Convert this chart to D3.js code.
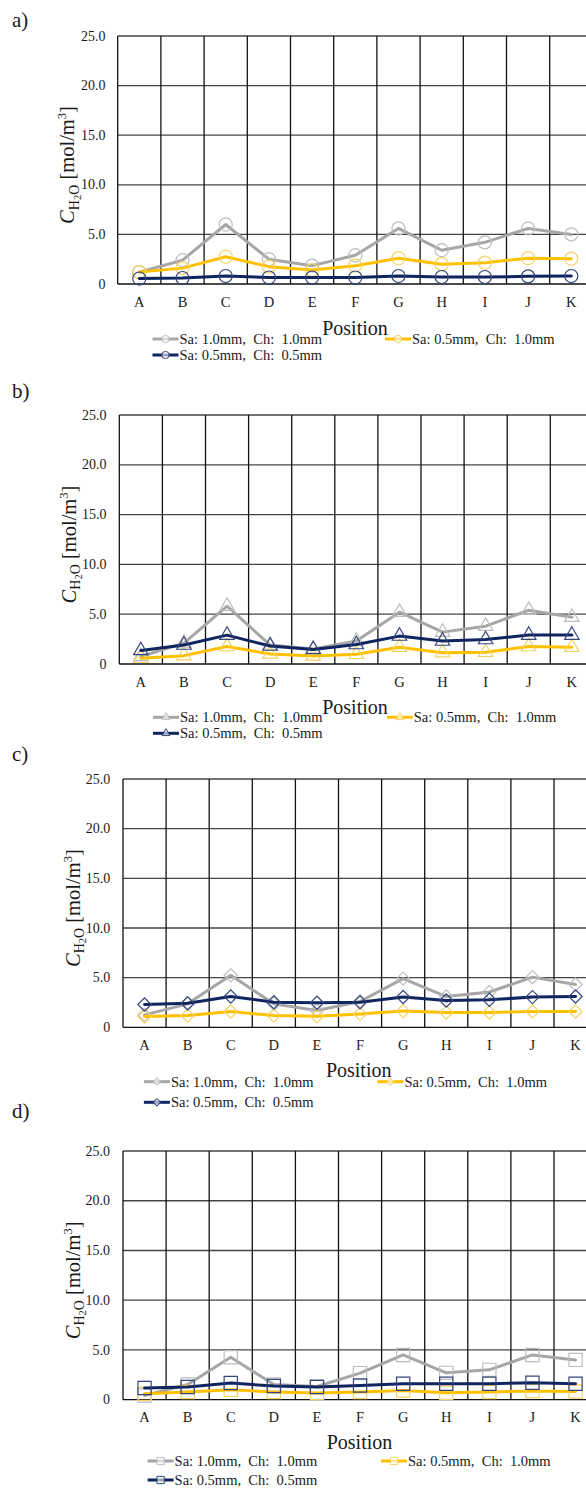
<!DOCTYPE html>
<html><head><meta charset="utf-8">
<script src="https://cdn.jsdelivr.net/npm/d3@7"></script>
<style>
html,body{margin:0;padding:0;background:#fff;}
svg{display:block;}
text{font-family:"Liberation Serif","DejaVu Serif",serif;fill:#1a1a1a;}
</style></head><body>
<svg id="chart" width="586" height="1490" font-family="Liberation Serif, DejaVu Serif, serif"></svg>
<script>
// Measurement positions along the channel
const positions = ["A","B","C","D","E","F","G","H","I","J","K"];
const yTicks = [0, 5, 10, 15, 20, 25];
const yTickLabels = ["0", "5.0", "10.0", "15.0", "20.0", "25.0"];
const seriesNames = ["Sa: 1.0mm,  Ch:  1.0mm", "Sa: 0.5mm,  Ch:  1.0mm", "Sa: 0.5mm,  Ch:  0.5mm"];
const panelLabels = ["a)", "b)", "c)", "d)"];
const panelMarkers = ["circle", "triangle", "diamond", "square"];

// Water concentration C_H2O [mol/m3], panel a
const aSa10Ch10 = [1.2, 2.4, 6.0, 2.5, 1.85, 2.9, 5.6, 3.4, 4.2, 5.6, 5.0];
const aSa05Ch10 = [1.2, 1.6, 2.75, 1.75, 1.4, 1.85, 2.6, 2.0, 2.15, 2.6, 2.55];
const aSa05Ch05 = [0.55, 0.6, 0.8, 0.65, 0.65, 0.65, 0.8, 0.7, 0.7, 0.77, 0.8];
// panel b
const bSa10Ch10 = [0.75, 2.1, 5.8, 1.9, 1.5, 2.3, 5.2, 3.2, 3.8, 5.4, 4.7];
const bSa05Ch10 = [0.57, 0.84, 1.75, 1.0, 0.8, 0.97, 1.68, 1.14, 1.17, 1.75, 1.68];
const bSa05Ch05 = [1.35, 1.9, 2.9, 1.8, 1.45, 1.95, 2.8, 2.3, 2.45, 2.9, 2.9];
// panel c
const cSa10Ch10 = [1.25, 2.36, 5.24, 2.36, 1.69, 2.6, 4.9, 3.1, 3.55, 5.05, 4.3];
const cSa05Ch10 = [1.08, 1.18, 1.59, 1.18, 1.11, 1.35, 1.65, 1.5, 1.5, 1.59, 1.6];
const cSa05Ch05 = [2.3, 2.43, 3.1, 2.53, 2.47, 2.53, 3.05, 2.7, 2.77, 3.04, 3.1];
// panel d
const dSa10Ch10 = [0.43, 1.53, 4.27, 1.53, 1.33, 2.67, 4.5, 2.7, 3.0, 4.5, 4.0];
const dSa05Ch10 = [0.6, 0.77, 1.0, 0.77, 0.67, 0.77, 0.93, 0.7, 0.77, 0.87, 0.83];
const dSa05Ch05 = [1.17, 1.27, 1.67, 1.37, 1.27, 1.43, 1.6, 1.6, 1.6, 1.7, 1.6];

const panelData = [
  [aSa10Ch10, aSa05Ch10, aSa05Ch05],
  [bSa10Ch10, bSa05Ch10, bSa05Ch05],
  [cSa10Ch10, cSa05Ch10, cSa05Ch05],
  [dSa10Ch10, dSa05Ch10, dSa05Ch05]
];

const lineColors = ["#a6a6a6", "#ffc000", "#0f2560"];
const markerColors = ["#bdbdbd", "#f3d266", "#34457a"];

// Page layout of the four stacked panels
const layout = [
  {lab: 27,   left: 117.7, top: 36,  bottom: 284,    band: 43.2, tickRight: 105.4, xLab: 302,    posX: 355,   posY: 328,    leg1: 339,    leg2: 355,    legX1: 152.5, legX2: 385},
  {lab: 398,  left: 119.3, top: 415, bottom: 664,    band: 43.1, tickRight: 106.5, xLab: 681.7,  posX: 355,   posY: 707.7,  leg1: 717.3,  leg2: 733.3,  legX1: 153,   legX2: 386.8},
  {lab: 761,  left: 123,   top: 779, bottom: 1027.3, band: 43.1, tickRight: 110.2, xLab: 1045,   posX: 358.7, posY: 1070.7, leg1: 1081.7, leg2: 1102.3, legX1: 143.9, legX2: 377.4},
  {lab: 1118, left: 123,   top: 1151, bottom: 1399.7, band: 43.1, tickRight: 110,  xLab: 1417.3, posX: 359.5, posY: 1442.7, leg1: 1461,   leg2: 1480,   legX1: 147.6, legX2: 381}
];

const svg = d3.select("#chart");

function markerPath(kind, scale) {
  const s = scale || 1;
  if (kind === "circle") return d3.symbol(d3.symbolCircle, 135 * s * s)();
  if (kind === "triangle") return d3.symbol(d3.symbolTriangle, 90 * s * s)();
  if (kind === "square") return d3.symbol(d3.symbolSquare, 175 * s * s)();
  return d3.symbol(d3.symbolSquare, 88 * s * s)(); // rotated into a diamond
}
function markerTransform(kind, x, y) {
  return kind === "diamond" ? `translate(${x},${y}) rotate(45)` : `translate(${x},${y})`;
}

layout.forEach((L, pi) => {
  const g = svg.append("g");
  const x = d3.scaleBand().domain(positions).range([L.left, L.left + L.band * positions.length]).padding(0);
  const y = d3.scaleLinear().domain([0, 25]).range([L.bottom, L.top]);
  const kind = panelMarkers[pi];

  // panel letter
  g.append("text").attr("x", 12).attr("y", L.lab).attr("font-size", 21).text(panelLabels[pi]);

  // horizontal gridlines
  g.selectAll(".hg").data(yTicks).join("line")
    .attr("x1", L.left).attr("x2", L.left + L.band * positions.length)
    .attr("y1", d => y(d)).attr("y2", d => y(d))
    .attr("stroke", d => d === 0 ? "#111" : "#444").attr("stroke-width", 1.3);
  // vertical gridlines at category boundaries
  g.selectAll(".vg").data(positions).join("line")
    .attr("x1", d => x(d)).attr("x2", d => x(d))
    .attr("y1", y(25)).attr("y2", y(0))
    .attr("stroke", "#111").attr("stroke-width", 1.3);

  // y tick labels
  g.selectAll(".yt").data(yTicks).join("text")
    .attr("x", L.tickRight).attr("y", d => y(d) + 4.6)
    .attr("text-anchor", "end").attr("font-size", 14)
    .text((d, i) => yTickLabels[i]);

  // x tick labels
  g.selectAll(".xt").data(positions).join("text")
    .attr("x", d => x(d) + x.bandwidth() / 2).attr("y", L.xLab + 5)
    .attr("text-anchor", "middle").attr("font-size", 14.5)
    .text(d => d);

  // y axis title
  const yt = g.append("text")
    .attr("transform", `translate(${L.left - 43.5},${(L.top + L.bottom) / 2 + 5}) rotate(-90)`)
    .attr("text-anchor", "middle").attr("font-size", 20.5);
  yt.append("tspan").attr("font-style", "italic").text("C");
  yt.append("tspan").attr("font-size", 14).attr("dy", 4.5).text("H");
  yt.append("tspan").attr("font-size", 10.5).attr("dy", 2).text("2");
  yt.append("tspan").attr("font-size", 14).attr("dy", -2).text("O");
  yt.append("tspan").attr("dy", -4.5).text(" [mol/m");
  yt.append("tspan").attr("font-size", 12.5).attr("dy", -8).text("3");
  yt.append("tspan").attr("dy", 8).text("]");

  // x axis title
  g.append("text").attr("x", L.posX).attr("y", L.posY + 6.5)
    .attr("text-anchor", "middle").attr("font-size", 20).text("Position");

  // series lines and markers
  const line = d3.line().x((d, i) => x(positions[i]) + x.bandwidth() / 2).y(d => y(d));
  panelData[pi].forEach((vals, si) => {
    g.append("path").datum(vals).attr("d", line)
      .attr("fill", "none").attr("stroke", lineColors[si])
      .attr("stroke-width", 3).attr("stroke-linejoin", "round").attr("stroke-linecap", "round");
    g.selectAll(null).data(vals).join("path")
      .attr("d", markerPath(kind))
      .attr("transform", (d, i) => markerTransform(kind, x(positions[i]) + x.bandwidth() / 2, y(d)))
      .attr("fill", "none").attr("stroke", markerColors[si]).attr("stroke-width", 1.2);
  });

  // legend
  const entries = [
    {x: L.legX1, y: L.leg1}, {x: L.legX2, y: L.leg1}, {x: L.legX1, y: L.leg2}
  ];
  entries.forEach((e, si) => {
    const lg = g.append("g");
    lg.append("line").attr("x1", e.x).attr("x2", e.x + 26).attr("y1", e.y).attr("y2", e.y)
      .attr("stroke", lineColors[si]).attr("stroke-width", 3);
    lg.append("path").attr("d", markerPath(kind, 0.55))
      .attr("transform", markerTransform(kind, e.x + 13, e.y))
      .attr("fill", "#fff").attr("fill-opacity", 0.6).attr("stroke", markerColors[si]).attr("stroke-width", 1);
    lg.append("text").attr("x", e.x + 27).attr("y", e.y + 4.8)
      .attr("font-size", 14.5).attr("xml:space", "preserve").style("white-space", "pre")
      .text(seriesNames[si]);
  });
});
</script>
</body></html>
